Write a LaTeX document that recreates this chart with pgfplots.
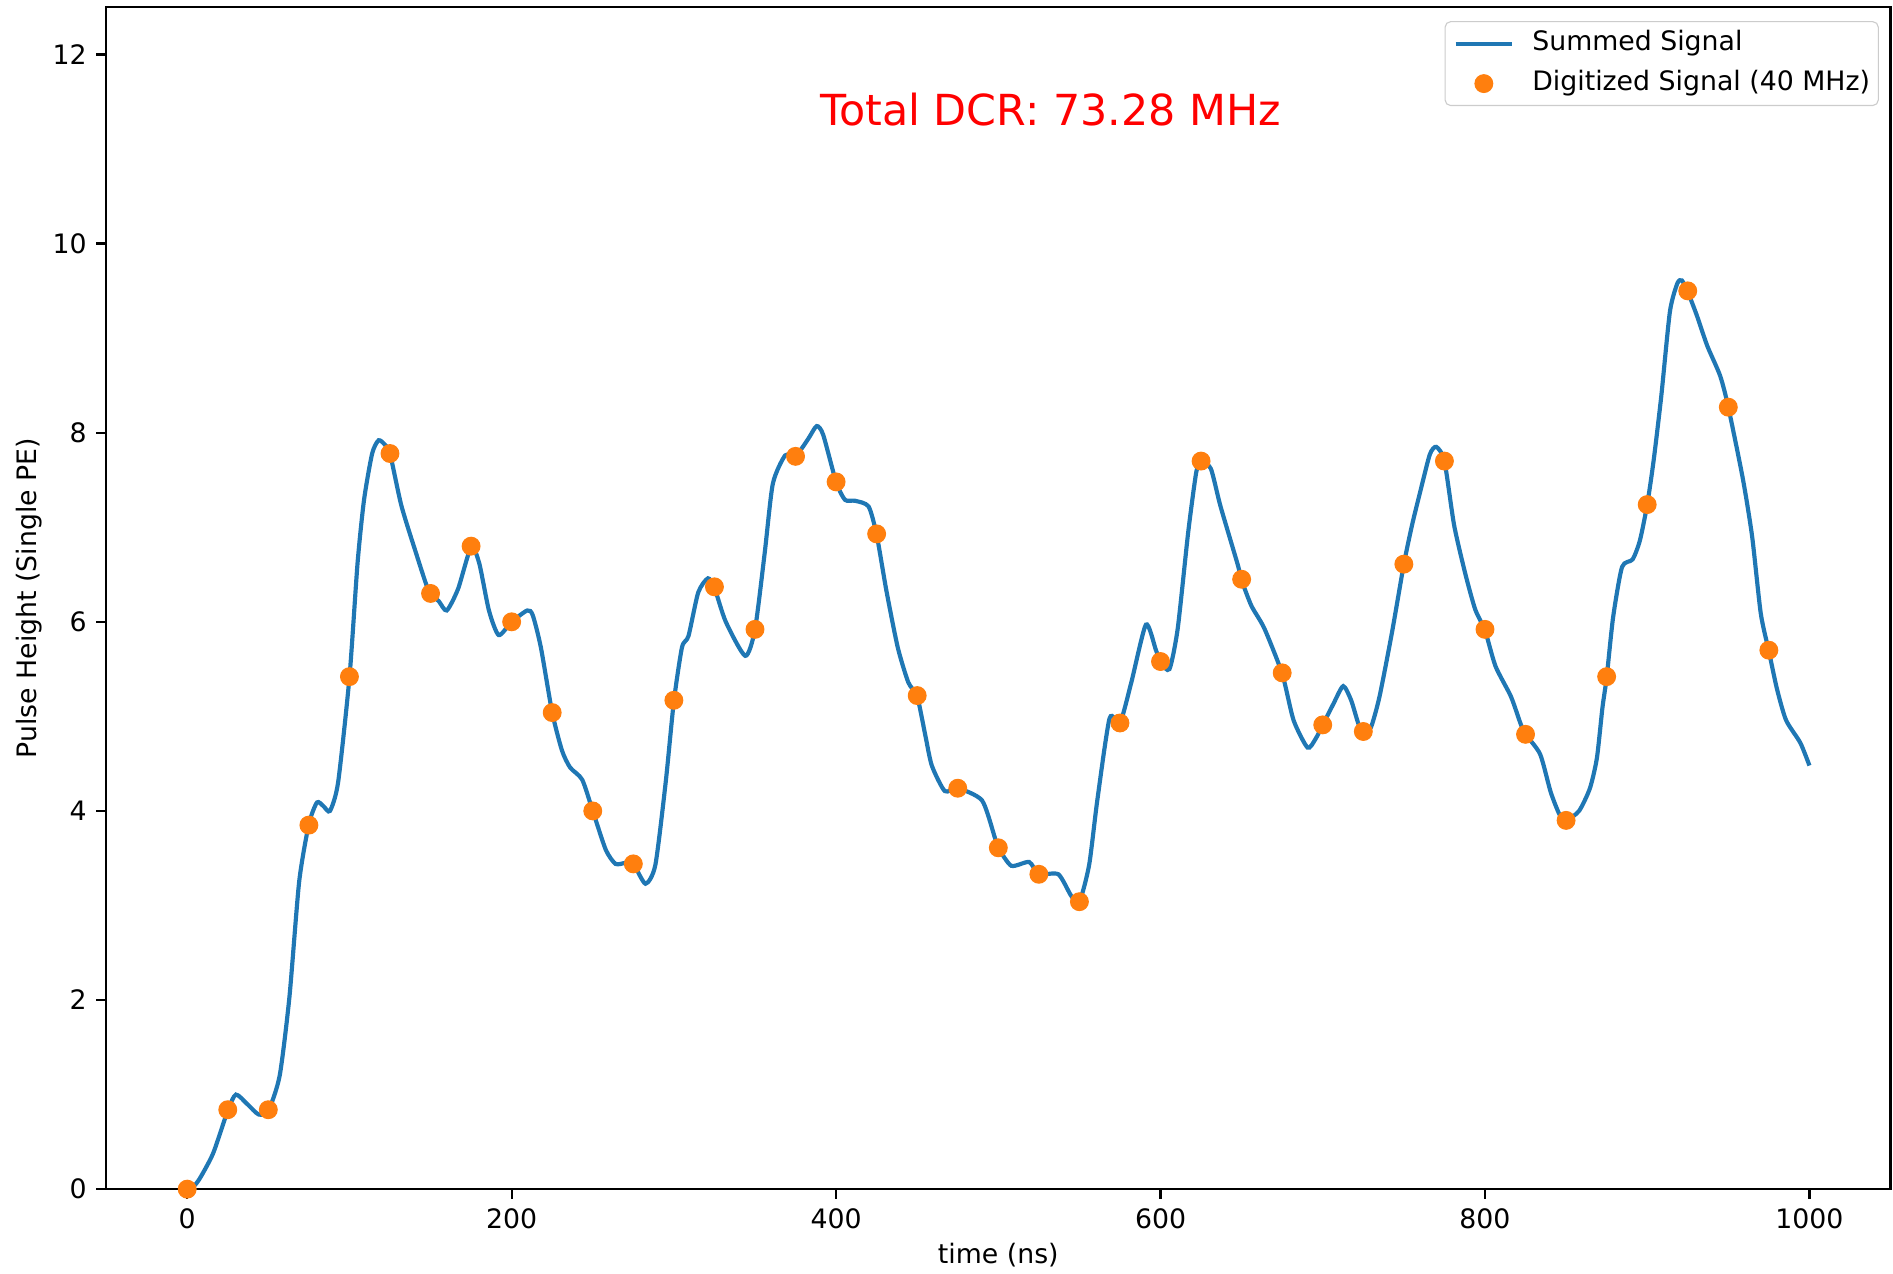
\documentclass[border=0pt]{standalone}
\usepackage{fontspec}
\setmainfont{DejaVu Sans}
\usepackage{pgfplots}
\pgfplotsset{compat=1.18}
\definecolor{mplblue}{HTML}{1F77B4}
\definecolor{mplorange}{HTML}{FF7F0E}
\pgfplotsset{
  lineleg/.style={legend image code/.code={\draw[##1] (0pt,0pt) -- (20.4pt,0pt);}},
  markleg/.style={legend image code/.code={\draw[##1, mark repeat=2, mark phase=2] plot coordinates {(0pt,0pt) (10.2pt,0pt) (20.4pt,0pt)};}},
}
\begin{document}
\begin{tikzpicture}
\begin{axis}[
  scale only axis,
  width=642.4pt, height=425.5pt,
  xmin=-50, xmax=1050, ymin=0, ymax=12.5,
  xtick={0,200,400,600,800,1000},
  ytick={0,2,4,6,8,10,12},
  tick align=outside,
  xtick pos=bottom, ytick pos=left,
  major tick length=3.5pt,
  every tick/.style={black, line width=0.8pt},
  axis line style={line width=0.8pt, black},
  /pgf/number format/assume math mode=true,
  /pgf/number format/1000 sep={},
  ticklabel style={font=\fontsize{9.63}{11.5}\selectfont},
  label style={font=\fontsize{9.63}{11.5}\selectfont},
  xlabel={time (ns)},
  ylabel={Pulse Height (Single PE)},
  xlabel style={at={(axis description cs:0.5,-0.0562)}, anchor=center, inner sep=0pt},
  ylabel style={at={(axis description cs:-0.0431,0.5)}, anchor=center, inner sep=0pt},
  legend cell align=left,
  legend style={at={(axis description cs:1,1)}, xshift=-4.2pt, yshift=-5.0pt,
    anchor=north east, draw=black!20, rounded corners=2pt, fill=white,
    font=\fontsize{9.63}{11.5}\selectfont, inner xsep=3.0pt, inner ysep=2.4pt,
    nodes={inner xsep=0pt, inner ysep=1pt, text height=7pt, text depth=2pt},
    column sep=6.5pt, row sep=3.4pt},
]
\addplot[mplblue, line width=1.5pt, smooth, tension=0.4, lineleg]
coordinates {
(0,0) (4,0.03) (8,0.12) (16,0.38) (25,0.83) (30,1.00) (37,0.90) (44,0.79)
(50,0.83) (57,1.20) (63,2.03) (69,3.25) (75,3.86) (80,4.09) (84,4.05) (88,4.00)
(93,4.30) (100,5.41) (105,6.62) (109,7.29) (114,7.78) (118,7.92) (122,7.87)
(125,7.78) (132,7.23) (141,6.73) (149,6.32) (155,6.22) (160,6.12) (167,6.35)
(175,6.79) (180,6.62) (186,6.12) (192,5.86) (200,6.00) (209.6,6.12) (213,6.07)
(218,5.73) (225,5.04) (231,4.64) (236,4.46) (243.5,4.33) (250,4.00) (258,3.59)
(264,3.44) (270,3.45) (275,3.44) (282.5,3.23) (288.6,3.43) (295,4.31) (300,5.16)
(305,5.73) (309,5.85) (315,6.31) (321,6.46) (325,6.36) (332,6.00) (344,5.64)
(350,5.92) (356,6.73) (361,7.46) (368.6,7.76) (375,7.75) (383,7.94) (388,8.07)
(392,7.98) (400,7.48) (405.5,7.29) (411.7,7.28) (420,7.22) (425,6.92) (431,6.33)
(438,5.73) (444.5,5.36) (450,5.21) (455,4.80) (459,4.48) (467,4.21) (475,4.24)
(490,4.11) (498,3.71) (500,3.61) (508,3.42) (519,3.46) (525,3.33) (537,3.33)
(545,3.10) (550,3.04) (556,3.43) (561,4.11) (568.6,4.98) (575,4.93) (582,5.36)
(591,5.97) (597,5.71) (600,5.57) (605.5,5.50) (610.6,5.93) (617,6.94) (622,7.58)
(625,7.69) (631,7.62) (637,7.22) (647.5,6.61) (650,6.44) (656,6.17) (664,5.93)
(675,5.45) (682,4.96) (690.6,4.67) (695.5,4.76) (700,4.91) (706.5,5.13)
(712.6,5.32) (717.5,5.17) (722,4.92) (725,4.84) (729.6,4.88) (735,5.21)
(742.7,5.89) (750,6.61) (755,7.02) (760,7.37) (766,7.77) (770,7.85) (775,7.70)
(781,7.02) (788,6.50) (794,6.13) (800,5.91) (806.5,5.53) (816,5.21) (822,4.92)
(825,4.81) (834,4.60) (840.5,4.20) (846,3.96) (850,3.90) (858,4.00) (864.7,4.24)
(869,4.56) (872.4,5.09) (875,5.41) (879,6.05) (884.5,6.58) (891,6.66) (895.5,6.86)
(900,7.24) (904,7.71) (908.7,8.39) (914,9.28) (918.6,9.58) (921.4,9.61) (925,9.49)
(930.6,9.24) (937,8.92) (945,8.60) (950,8.27) (959,7.51) (964.7,6.90) (970,6.09)
(975,5.69) (980,5.29) (985.6,4.96) (994.4,4.72) (1000,4.48)
};
\addlegendentry{Summed Signal}
\addplot[only marks, mark=*, mark size=3.2pt, mplorange, mark options={draw=mplorange, fill=mplorange}, markleg]
coordinates {
(0,0) (25,0.84) (50,0.84) (75,3.85) (100,5.42) (125,7.78) (150,6.30) (175,6.80)
(200,6.00) (225,5.04) (250,4.00) (275,3.44) (300,5.17) (325,6.37) (350,5.92)
(375,7.75) (400,7.48) (425,6.93) (450,5.22) (475,4.24) (500,3.61) (525,3.33)
(550,3.04) (575,4.93) (600,5.58) (625,7.70) (650,6.45) (675,5.46) (700,4.91)
(725,4.84) (750,6.61) (775,7.70) (800,5.92) (825,4.81) (850,3.90) (875,5.42)
(900,7.24) (925,9.50) (950,8.27) (975,5.70)
};
\addlegendentry{Digitized Signal (40 MHz)}
\node[anchor=base west, text=red, font=\fontsize{15.4}{18.5}\selectfont, inner sep=0pt]
  at (rel axis cs:0.4,0.9) {Total DCR: 73.28 MHz};
\end{axis}
\path (-38.2pt,-30.2pt) rectangle (643.3pt,428.1pt);
\end{tikzpicture}
\end{document}
